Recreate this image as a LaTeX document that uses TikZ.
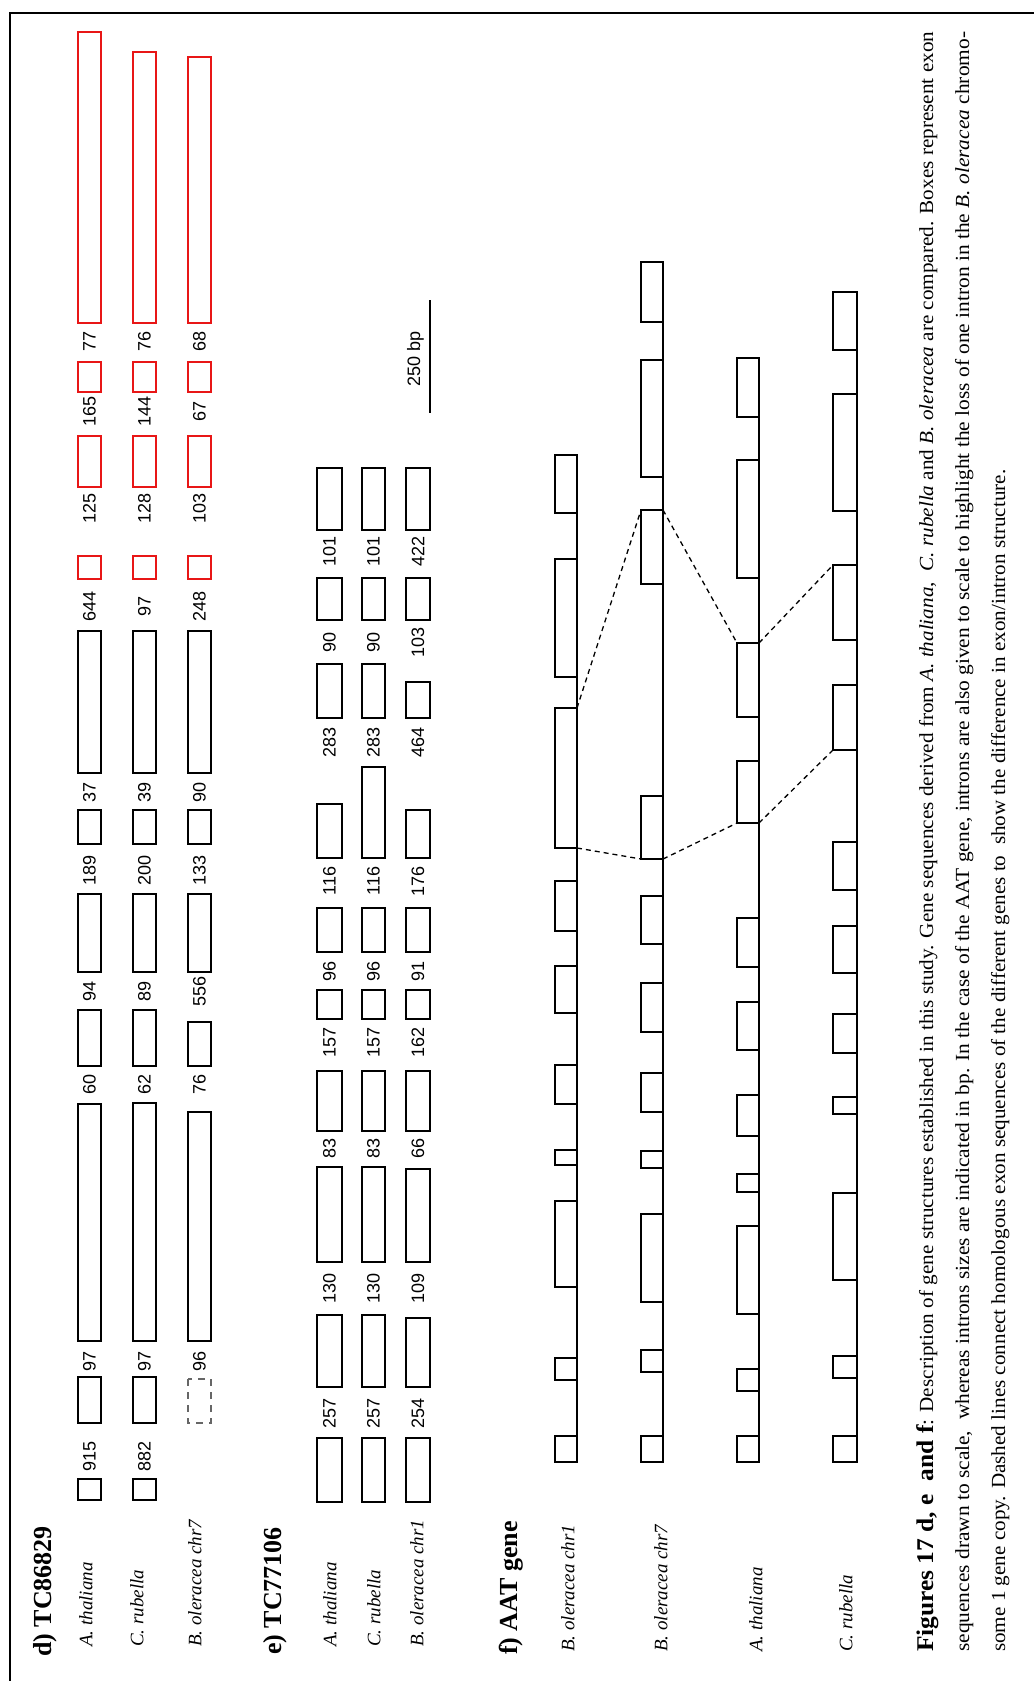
\documentclass[tikz,border=0pt]{standalone}
\usepackage{fontspec}
\setmainfont{Liberation Serif}
\setsansfont{Liberation Sans}
\usepackage{graphicx}
\usetikzlibrary{positioning}
\definecolor{tcred}{RGB}{232,22,22}
\tikzset{
  exon/.style={draw=black, line width=1.5pt},
  redexon/.style={draw=tcred, line width=1.5pt},
  lostexon/.style={draw=black!60, line width=1.3pt, dash pattern=on 7pt off 6pt},
  intronbp/.style={font=\sffamily\fontsize{18}{18}\selectfont, rotate=90, inner sep=0pt},
  species/.style={font=\itshape\fontsize{19}{19}\selectfont, rotate=90, anchor=west, inner sep=0pt},
  sectitle/.style={font=\bfseries\fontsize{26}{26}\selectfont, rotate=90, anchor=west, inner sep=0pt},
  homolog/.style={line width=1.3pt, dash pattern=on 5pt off 4pt},
  capline/.style={font=\fontsize{20}{20}\selectfont, rotate=90, anchor=base west, inner sep=0pt}
}

\begin{document}
\begin{tikzpicture}[x=1pt, y=-1pt]
    \useasboundingbox (0,0) rectangle (1034,1681);
    % Frame
    \draw[line width=1.5pt] (10,1681) -- (10,13) -- (1034,13);

    % d) TC86829
    \node[sectitle] (titled) at (45,1657) {d) TC86829};
    \node[species] (dA) at (86,1647) {A. thaliana};
    \node[species] (dC) at (137,1647) {C. rubella};
    \node[species] (dB) at (195,1647) {B. oleracea chr7};
    \foreach \t/\b in {631/773, 810/844, 894/972, 1010/1066, 1104/1341, 1377/1423, 1479/1500}
        \draw[exon] (78,\t) rectangle (101,\b);
    \foreach \t/\b in {32/323, 362/392, 436/487, 556/579}
        \draw[redexon] (78,\t) rectangle (101,\b);
    \foreach \t/\b in {631/773, 810/844, 894/972, 1010/1066, 1103/1341, 1377/1423, 1479/1500}
        \draw[exon] (133,\t) rectangle (156,\b);
    \foreach \t/\b in {52/323, 362/392, 436/487, 556/579}
        \draw[redexon] (133,\t) rectangle (156,\b);
    \foreach \t/\b in {631/773, 810/844, 894/972, 1022/1066, 1112/1341}
        \draw[exon] (188,\t) rectangle (211,\b);
    \foreach \t/\b in {57/323, 362/392, 436/487, 556/579}
        \draw[redexon] (188,\t) rectangle (211,\b);
    \draw[lostexon] (188,1379) rectangle (211,1423);
    % intron sizes
    \foreach \y/\a/\c/\b in {341/77/76/68, 411/165/144/67, 508/125/128/103, 606/644/97/248,
        792/37/39/90, 870/189/200/133, 991/94/89/556, 1084/60/62/76, 1361/97/97/96, 1456/915/882/} {
        \node[intronbp] (dA\y) at (89.5,\y) {\a};
        \node[intronbp] (dC\y) at (144.5,\y) {\c};
        \node[intronbp] (dB\y) at (199.5,\y) {\b};
    }

    % e) TC77106
    \node[sectitle] (titlee) at (275,1655) {e) TC77106};
    \node[species] (eA) at (330,1647) {A. thaliana};
    \node[species] (eC) at (374,1647) {C. rubella};
    \node[species] (eB) at (417,1647) {B. oleracea chr1};
    \foreach \t/\b in {468/530, 578/620, 664/718, 804/858, 908/952, 990/1019, 1071/1131, 1167/1262, 1315/1387, 1438/1502}
        \draw[exon] (317,\t) rectangle (342,\b);
    \foreach \t/\b in {468/530, 578/620, 664/718, 767/858, 908/952, 990/1019, 1071/1131, 1167/1262, 1315/1387, 1438/1502}
        \draw[exon] (362,\t) rectangle (385,\b);
    \foreach \t/\b in {468/530, 578/620, 682/718, 810/858, 908/952, 990/1019, 1071/1131, 1169/1262, 1318/1387, 1438/1502}
        \draw[exon] (406,\t) rectangle (430,\b);
    \foreach \y/\a/\c/\b in {551/101/101/422, 642/90/90/103, 742/283/283/464, 881/116/116/176,
        971/96/96/91, 1042/157/157/162, 1148/83/83/66, 1288/130/130/109, 1413/257/257/254} {
        \node[intronbp] (eA\y) at (329.5,\y) {\a};
        \node[intronbp] (eC\y) at (373.5,\y) {\c};
        \node[intronbp] (eB\y) at (418,\y) {\b};
    }
    % scale bar
    \draw[line width=1.3pt] (430,300) -- (430,413);
    \node[intronbp, anchor=base west] (bar) at (420,387) {250 bp};

    % f) AAT gene
    \node[sectitle] (titlef) at (511,1655) {f) AAT gene};
    \node[species] (fB1) at (568,1652) {B. oleracea chr1};
    \node[species] (fB7) at (661,1652) {B. oleracea chr7};
    \node[species] (fA) at (756,1652) {A. thaliana};
    \node[species] (fC) at (846,1652) {C. rubella};
    \foreach \t/\b in {455/513, 559/677, 708/848, 881/931, 966/1013, 1065/1104, 1150/1165, 1201/1287, 1358/1380, 1436/1462}
        \draw[exon] (555,\t) rectangle (577,\b);
    \draw[exon] (577,455) -- (577,1462);
    \foreach \t/\b in {262/322, 360/477, 510/584, 796/859, 896/944, 983/1032, 1073/1112, 1151/1168, 1214/1302, 1350/1372, 1436/1462}
        \draw[exon] (641,\t) rectangle (663,\b);
    \draw[exon] (663,262) -- (663,1462);
    \foreach \t/\b in {358/417, 460/578, 643/717, 761/823, 918/967, 1002/1050, 1095/1136, 1174/1192, 1226/1314, 1369/1391, 1436/1462}
        \draw[exon] (737,\t) rectangle (759,\b);
    \draw[exon] (759,358) -- (759,1462);
    \foreach \t/\b in {292/350, 394/511, 565/640, 685/750, 842/890, 926/973, 1014/1053, 1097/1114, 1193/1280, 1356/1378, 1436/1462}
        \draw[exon] (833,\t) rectangle (857,\b);
    \draw[exon] (857,292) -- (857,1462);
    % homologous exons
    \coordinate (b1top) at (577,708);
    \coordinate (b1bot) at (577,848);
    \coordinate (b7topL) at (641,510);
    \coordinate (b7topR) at (663,510);
    \coordinate (b7botL) at (641,859);
    \coordinate (b7botR) at (663,859);
    \coordinate (attopL) at (737,643);
    \coordinate (attopR) at (759,643);
    \coordinate (atbotL) at (737,823);
    \coordinate (atbotR) at (759,823);
    \coordinate (crtop) at (833,565);
    \coordinate (crbot) at (833,750);
    \draw[homolog] (b1top) -- (b7topL);
    \draw[homolog] (b7topR) -- (attopL);
    \draw[homolog] (attopR) -- (crtop);
    \draw[homolog] (b1bot) -- (b7botL);
    \draw[homolog] (b7botR) -- (atbotL);
    \draw[homolog] (atbotR) -- (crbot);

    % Caption
    \node[capline] (cap1) at (933,1652) {\resizebox{1620pt}{\height}{\textbf{\fontsize{24}{24}\selectfont Figures 17 d, e\ \ and f}: Description of gene structures established in this study. Gene sequences derived from \textit{A. thaliana}, \ \textit{C. rubella} and \textit{B. oleracea} are compared. Boxes represent exon}};
    \node[capline] (cap2) at (969,1652) {\resizebox{1620pt}{\height}{sequences drawn to scale,\ \ whereas introns sizes are indicated in bp. In the case of the AAT gene, introns are also given to scale to highlight the loss of one intron in the \textit{B. oleracea} chromo-}};
    \node[capline] (cap3) at (1005,1652) {\resizebox{1182pt}{\height}{some 1 gene copy. Dashed lines connect homologous exon sequences of the different genes to\ \ show the difference in exon/intron structure.}};
\end{tikzpicture}
\end{document}
